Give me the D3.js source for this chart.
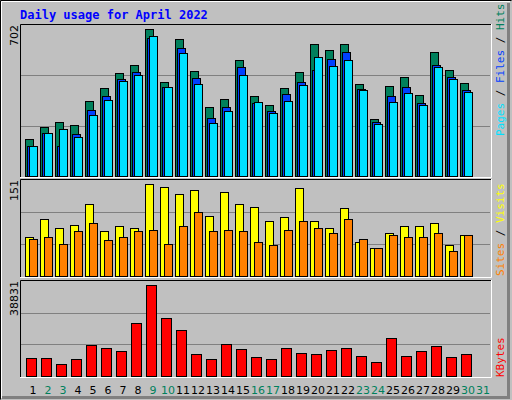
<!DOCTYPE html>
<html><head><meta charset="utf-8">
<script src="https://cdn.jsdelivr.net/npm/d3@7"></script>
<style>body{margin:0;background:#fff}</style>
</head><body>
<script>
// Data
var days = d3.range(1, 32);
var weekend = [2, 3, 9, 10, 16, 17, 23, 24, 30, 31];
var hits  = [172,228,251,237,349,409,479,516,683,437,637,488,321,358,539,372,330,409,484,614,586,614,428,265,418,460,377,577,493,432];
var files = [139,200,139,195,307,372,451,484,642,414,595,456,270,321,507,339,302,381,437,493,544,577,404,251,372,414,339,516,460,400];
var pages = [139,200,218,181,284,353,442,470,651,414,572,428,246,302,470,344,293,349,423,553,511,539,400,242,344,386,330,507,451,391];
var visits = [61,89,75,81,114,70,79,76,145,140,129,135,95,132,114,109,87,93,139,86,75,107,53,44,67,78,79,83,48,65];
var sites  = [58,61,51,70,83,56,62,70,72,51,79,101,70,73,70,53,48,73,87,76,68,90,58,44,65,62,61,68,40,64];
var kbytes = [7281,7281,4854,6876,12539,11326,10112,21842,37213,23865,18607,8899,6876,12944,10921,7685,6876,11326,9303,8899,10517,11326,8090,5663,15371,8090,10112,12135,7685,8899];
var maxHits = 702, maxVisits = 151, maxKB = 38831;

var W = 512, H = 400;
var svg = d3.select("body").append("svg").attr("width", W).attr("height", H)
    .style("font-family", "DejaVu Sans Mono, monospace");

// background and bevel
svg.append("rect").attr("width", W).attr("height", H).attr("fill", "#c0c0c0");
svg.append("path").attr("d", "M0.5,399.5V0.5H511.5").attr("fill", "none").attr("stroke", "#000");
svg.append("path").attr("d", "M1.5,398V1.5H510").attr("fill", "none").attr("stroke", "#fff");
svg.append("path").attr("d", "M2,397.5H508.5V3").attr("fill", "none").attr("stroke", "#808080").attr("stroke-width", 3);

svg.append("text").attr("x", 20).attr("y", 19).attr("fill", "#0000ff")
    .attr("font-size", 12).attr("font-weight", "bold").text("Daily usage for April 2022");

var x = d3.scaleBand().domain(days).range([25, 490]).paddingInner(0);

function panel(top, bottom, max) {
    var y = d3.scaleLinear().domain([0, max]).range([bottom, top]);
    [1 / 3, 2 / 3].forEach(function (f) {
        svg.append("line").attr("x1", 21).attr("x2", 490)
            .attr("y1", Math.round(y(max * f)) + 0.5).attr("y2", Math.round(y(max * f)) + 0.5)
            .attr("stroke", "#808080");
    });
    svg.append("text").attr("transform", "translate(18," + top + ") rotate(-90)")
        .attr("text-anchor", "end").attr("font-size", 11).attr("fill", "#000")
        .style("font-family", "DejaVu Sans, sans-serif").text(max);
    return y;
}

function bars(vals, y, off, w, fill) {
    svg.append("g").selectAll("rect").data(vals).enter().append("rect")
        .attr("x", function (d, i) { return x(i + 1) + off + 0.5; })
        .attr("y", function (d) { return Math.round(y(d)) + 0.5; })
        .attr("width", w)
        .attr("height", function (d) { return y(0) - Math.round(y(d)); })
        .attr("fill", fill).attr("stroke", "#000");
}

function frame(top, bottom) {
    svg.append("path").attr("d", "M20.5," + bottom + "V" + (top + 0.5) + "H491")
        .attr("fill", "none").attr("stroke", "#000");
    svg.append("path").attr("d", "M20," + (bottom + 0.5) + "H491.5V" + top)
        .attr("fill", "none").attr("stroke", "#fff");
}

// panel 1
var y1 = panel(25, 176, maxHits);
bars(hits, y1, 0, 8, "#00805c");
bars(files, y1, 2, 8, "#0040ff");
bars(pages, y1, 4, 8, "#00e0ff");
frame(24, 177);

// panel 2
var y2 = panel(180, 276, maxVisits);
bars(visits, y2, 0, 8, "#ffff00");
bars(sites, y2, 4, 8, "#ff8000");
frame(179, 277);

// panel 3
var y3 = panel(281, 376, maxKB);
bars(kbytes, y3, 1, 10, "#ff0000");
frame(280, 377);

// day labels
svg.append("g").selectAll("text").data(days).enter().append("text")
    .attr("x", function (d) { return x(d) + 8; })
    .attr("y", 394).attr("text-anchor", "middle").attr("font-size", 11)
    .style("font-family", "DejaVu Sans, sans-serif")
    .attr("fill", function (d) { return weekend.indexOf(d) >= 0 ? "#00805c" : "#000"; })
    .text(function (d) { return d; });

// right side legends
function legend(yBottom, parts) {
    var t = svg.append("text").attr("transform", "translate(504," + yBottom + ") rotate(-90)")
        .attr("font-size", 11);
    parts.forEach(function (p) { t.append("tspan").attr("fill", p[1]).text(p[0]); });
}
legend(136, [["Pages", "#00e0ff"], [" / ", "#000"], ["Files", "#0040ff"], [" / ", "#000"], ["Hits", "#00805c"]]);
legend(276, [["Sites", "#ff8000"], [" / ", "#000"], ["Visits", "#ffff00"]]);
legend(377, [["KBytes", "#ff0000"]]);
</script>
</body></html>
